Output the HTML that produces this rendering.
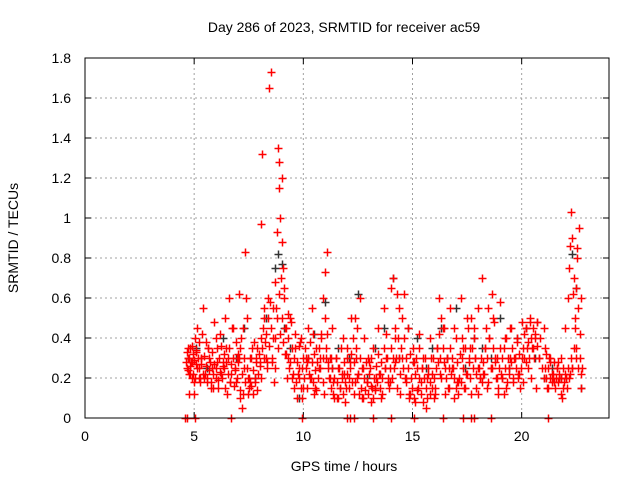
<!DOCTYPE html>
<html><head><meta charset="utf-8"><style>
body{margin:0;background:#fff}
svg{display:block;font-family:"Liberation Sans",sans-serif}
</style></head><body>
<svg id="chart" width="640" height="480" viewBox="0 0 640 480">
<text x="344" y="32" font-size="14" text-anchor="middle" fill="#000">Day 286 of 2023, SRMTID for receiver ac59</text>
<text x="344" y="471" font-size="14" text-anchor="middle">GPS time / hours</text>
<text transform="translate(18,238) rotate(-90)" font-size="14" text-anchor="middle">SRMTID / TECUs</text>
<g id="grid"></g>
<g id="ticks"></g>
<g id="black"></g>
<g id="red"></g>
<rect x="85" y="58" width="524" height="360" fill="none" stroke="#000" stroke-width="1"/>
</svg>
<script>
const xTicks=[0,5,10,15,20];
const yTicks=[0,0.2,0.4,0.6,0.8,1,1.2,1.4,1.6,1.8];
const yTickLabels=["0","0.2","0.4","0.6","0.8","1","1.2","1.4","1.6","1.8"];
const redHours=[4.65,4.7,4.75,4.8,4.85,4.9,4.95,5.0,5.05,5.1,5.15,5.2,5.3,5.4,5.5,5.55,5.6,5.7,5.8,5.9,6.0,6.05,6.1,6.2,6.3,6.4,6.5,6.55,6.6,6.7,6.8,6.9,7.0,7.05,7.1,7.15,7.2,7.3,7.35,7.4,7.5,7.6,7.7,7.8,7.9,8.0,8.05,8.1,8.15,8.2,8.3,8.4,8.45,8.5,8.6,8.7,8.75,8.8,8.85,8.9,8.9,8.95,9.0,9.0,9.05,9.1,9.2,9.3,9.4,9.5,9.6,9.7,9.8,9.9,10.0,10.1,10.2,10.3,10.4,10.5,10.6,10.7,10.8,10.9,11.0,11.05,11.1,11.2,11.3,11.4,11.5,11.6,11.7,11.8,11.9,12.0,12.1,12.2,12.3,12.4,12.5,12.6,12.7,12.8,12.9,13.0,13.1,13.2,13.3,13.4,13.5,13.6,13.7,13.8,13.9,14.0,14.1,14.15,14.2,14.3,14.4,14.5,14.6,14.7,14.8,14.9,15.0,15.1,15.2,15.3,15.4,15.5,15.6,15.7,15.8,15.9,16.0,16.1,16.2,16.3,16.4,16.5,16.6,16.7,16.8,16.9,17.0,17.1,17.2,17.3,17.4,17.5,17.6,17.7,17.8,17.9,18.0,18.1,18.2,18.3,18.4,18.5,18.6,18.7,18.8,18.9,19.0,19.1,19.2,19.3,19.4,19.5,19.6,19.7,19.8,19.9,20.0,20.1,20.2,20.3,20.4,20.5,20.6,20.7,20.8,21.0,21.1,21.2,21.3,21.4,21.5,21.6,21.7,21.8,21.9,22.0,22.1,22.15,22.2,22.25,22.3,22.35,22.4,22.45,22.5,22.55,22.6,22.65,22.7,22.75,4.7,4.8,4.9,5.0,5.1,5.2,5.3,5.45,5.65,5.85,6.05,6.25,6.45,6.65,6.85,7.05,7.25,7.45,7.65,7.85,8.05,8.25,8.55,8.65,9.15,9.35,9.55,9.75,9.95,10.15,10.35,10.55,10.75,10.95,11.15,11.35,11.55,11.75,11.95,12.15,12.35,12.55,12.75,12.95,13.15,13.35,13.55,13.75,13.95,14.25,14.45,14.65,14.85,15.05,15.25,15.45,15.65,15.85,16.05,16.25,16.45,16.65,16.85,17.05,17.25,17.45,17.65,17.85,18.05,18.25,18.45,18.65,18.85,19.05,19.25,19.45,19.65,19.85,20.05,20.25,20.45,20.65,21.05,21.25,21.45,21.65,21.85,22.05,22.3,22.5,22.7,4.75,5.25,5.75,6.35,6.95,7.55,8.35,9.25,9.85,10.45,11.25,11.85,12.45,13.05,13.65,14.35,14.95,15.55,16.15,16.75,17.35,17.95,18.55,19.15,19.75,20.35,20.75,21.35,21.95,22.6];
const redValues=[0.25,0.3,0.22,0.35,0.28,0.2,0.32,0.12,0.4,0.27,0.45,0.2,0.3,0.55,0.22,0.38,0.18,0.3,0.25,0.48,0.2,0.35,0.15,0.42,0.28,0.5,0.12,0.3,0.6,0.22,0.45,0.18,0.32,0.62,0.1,0.4,0.05,0.25,0.83,0.5,0.15,0.3,0.12,0.2,0.35,0.28,0.97,1.32,0.45,0.55,0.3,0.6,1.65,1.73,0.4,0.25,0.55,0.93,1.35,1.15,1.28,1.0,1.2,0.88,0.75,0.6,0.45,0.3,0.5,0.2,0.35,0.1,0.25,0.4,0.15,0.3,0.45,0.2,0.55,0.12,0.35,0.25,0.42,0.18,0.73,0.3,0.83,0.2,0.45,0.1,0.3,0.25,0.15,0.4,0.08,0.35,0.2,0.5,0.12,0.3,0.22,0.6,0.1,0.4,0.18,0.28,0.08,0.35,0.15,0.45,0.22,0.12,0.55,0.3,0.18,0.65,0.7,0.25,0.4,0.15,0.55,0.3,0.62,0.2,0.45,0.12,0.35,0.08,0.25,0.42,0.18,0.3,0.05,0.22,0.4,0.15,0.1,0.35,0.6,0.2,0.45,0.12,0.3,0.55,0.25,0.1,0.4,0.18,0.6,0.35,0.15,0.5,0.28,0.12,0.45,0.22,0.55,0.2,0.7,0.35,0.15,0.4,0.25,0.5,0.3,0.12,0.58,0.2,0.35,0.15,0.25,0.45,0.18,0.3,0.4,0.22,0.48,0.3,0.45,0.25,0.5,0.35,0.4,0.48,0.3,0.2,0.32,0.15,0.28,0.22,0.18,0.25,0.2,0.3,0.15,0.45,0.6,0.75,0.86,1.03,0.9,0.62,0.7,0.45,0.35,0.8,0.25,0.3,0.15,0.25,0.35,0.22,0.28,0.18,0.33,0.25,0.3,0.2,0.35,0.15,0.28,0.22,0.35,0.18,0.25,0.3,0.12,0.2,0.35,0.3,0.2,0.38,0.28,0.18,0.32,0.25,0.15,0.22,0.1,0.28,0.2,0.15,0.3,0.12,0.25,0.18,0.1,0.22,0.15,0.28,0.18,0.12,0.25,0.3,0.15,0.2,0.1,0.25,0.18,0.3,0.12,0.2,0.1,0.28,0.15,0.25,0.2,0.3,0.12,0.22,0.28,0.15,0.25,0.18,0.3,0.22,0.35,0.3,0.25,0.22,0.18,0.25,0.2,0.22,0.4,0.3,0.3,0.22,0.18,0.35,0.2,0.15,0.25,0.3,0.2,0.28,0.1,0.2,0.25,0.3,0.22,0.12,0.2,0.15,0.25,0.3,0.18,0.25,0.2,0.38,0.42,0.3,0.22,0.2,0.25];
const redHours2=[4.62,4.68,4.72,4.78,4.83,4.88,4.93,4.97,5.02,5.07,5.12,5.17,5.22,5.27,5.33,5.37,5.42,5.47,5.52,5.58,5.63,5.68,5.73,5.78,5.83,5.88,5.93,5.98,6.02,6.08,6.12,6.17,6.22,6.28,6.33,6.38,6.42,6.48,6.53,6.58,6.63,6.68,6.72,6.78,6.83,6.88,6.92,6.98,7.02,7.08,7.12,7.18,7.22,7.28,7.32,7.38,7.42,7.48,7.52,7.58,7.62,7.68,7.72,7.78,7.82,7.88,7.92,7.98,8.02,8.08,8.12,8.18,8.22,8.28,8.32,8.38,8.42,8.48,8.52,8.58,8.62,8.68,8.72,8.78,8.82,8.88,8.92,8.98,9.02,9.08,9.12,9.18,9.22,9.28,9.32,9.38,9.42,9.48,9.52,9.58,9.62,9.68,9.72,9.78,9.82,9.88,9.92,9.98,10.02,10.08,10.12,10.18,10.22,10.28,10.32,10.38,10.42,10.48,10.52,10.58,10.62,10.68,10.72,10.78,10.82,10.88,10.92,10.98,11.02,11.08,11.12,11.18,11.22,11.28,11.32,11.38,11.42,11.48,11.52,11.58,11.62,11.68,11.72,11.78,11.82,11.88,11.92,11.98,12.02,12.08,12.12,12.18,12.22,12.28,12.32,12.38,12.42,12.48,12.52,12.58,12.62,12.68,12.72,12.78,12.82,12.88,12.92,12.98,13.02,13.08,13.12,13.18,13.22,13.28,13.32,13.38,13.42,13.48,13.52,13.58,13.62,13.68,13.72,13.78,13.82,13.88,13.92,13.98,14.02,14.08,14.12,14.18,14.22,14.28,14.32,14.38,14.42,14.48,14.52,14.58,14.62,14.68,14.72,14.78,14.82,14.88,14.92,14.98,15.02,15.08,15.12,15.18,15.22,15.28,15.32,15.38,15.42,15.48,15.52,15.58,15.62,15.68,15.72,15.78,15.82,15.88,15.92,15.98,16.02,16.08,16.12,16.18,16.22,16.28,16.32,16.38,16.42,16.48,16.52,16.58,16.62,16.68,16.72,16.78,16.82,16.88,16.92,16.98,17.02,17.08,17.12,17.18,17.22,17.28,17.32,17.38,17.42,17.48,17.52,17.58,17.62,17.68,17.72,17.78,17.82,17.88,17.92,17.98,18.02,18.08,18.12,18.18,18.22,18.28,18.32,18.38,18.42,18.48,18.52,18.58,18.62,18.68,18.72,18.78,18.82,18.88,18.92,18.98,19.02,19.08,19.12,19.18,19.22,19.28,19.32,19.38,19.42,19.48,19.52,19.58,19.62,19.68,19.72,19.78,19.82,19.88,19.92,19.98,20.02,20.08,20.12,20.18,20.22,20.28,20.32,20.38,20.42,20.48,20.52,20.58,20.62,20.68,20.72,20.78,20.82,20.95,21.02,21.08,21.12,21.18,21.22,21.28,21.32,21.38,21.42,21.48,21.52,21.58,21.62,21.68,21.72,21.78,21.82,21.88,21.92,21.98,22.02,22.08,22.12,22.18,22.22,22.28,22.32,22.38,22.42,22.48,22.52,22.58,22.62,22.68,22.72];
const redValues2=[0.28,0.33,0.24,0.3,0.26,0.36,0.22,0.29,0.2,0.34,0.25,0.3,0.38,0.18,0.27,0.42,0.22,0.31,0.26,0.2,0.35,0.24,0.28,0.18,0.33,0.22,0.27,0.4,0.25,0.19,0.3,0.23,0.36,0.2,0.26,0.32,0.15,0.28,0.22,0.35,0.18,0.27,0.45,0.3,0.16,0.24,0.38,0.2,0.28,0.14,0.35,0.22,0.45,0.3,0.18,0.6,0.25,0.12,0.2,0.3,0.16,0.24,0.38,0.18,0.28,0.14,0.22,0.32,0.26,0.4,0.35,0.5,0.3,0.42,0.28,0.5,0.36,0.58,0.45,0.3,0.55,0.4,0.68,0.5,0.35,0.62,0.42,0.7,0.5,0.38,0.65,0.45,0.32,0.52,0.4,0.28,0.48,0.35,0.22,0.3,0.42,0.18,0.28,0.2,0.36,0.15,0.25,0.3,0.2,0.35,0.25,0.15,0.3,0.22,0.38,0.28,0.18,0.32,0.24,0.14,0.28,0.2,0.35,0.25,0.4,0.3,0.6,0.5,0.35,0.42,0.28,0.2,0.3,0.15,0.25,0.12,0.2,0.3,0.18,0.1,0.25,0.15,0.35,0.2,0.12,0.28,0.18,0.3,0.22,0.15,0.25,0.32,0.18,0.4,0.28,0.5,0.35,0.45,0.22,0.3,0.15,0.25,0.1,0.2,0.14,0.28,0.18,0.12,0.22,0.3,0.16,0.1,0.2,0.14,0.26,0.18,0.32,0.22,0.15,0.28,0.2,0.35,0.25,0.42,0.3,0.2,0.15,0.25,0.35,0.2,0.3,0.45,0.28,0.62,0.4,0.3,0.22,0.35,0.5,0.25,0.4,0.3,0.18,0.25,0.12,0.32,0.2,0.15,0.28,0.1,0.22,0.3,0.14,0.35,0.2,0.12,0.25,0.08,0.2,0.3,0.15,0.1,0.25,0.18,0.12,0.22,0.3,0.2,0.15,0.25,0.35,0.28,0.42,0.3,0.5,0.35,0.45,0.25,0.2,0.3,0.15,0.25,0.35,0.22,0.3,0.45,0.2,0.15,0.28,0.12,0.2,0.32,0.18,0.4,0.25,0.15,0.35,0.22,0.45,0.3,0.2,0.5,0.35,0.25,0.4,0.3,0.15,0.25,0.12,0.2,0.3,0.18,0.28,0.22,0.35,0.45,0.3,0.55,0.4,0.25,0.62,0.35,0.48,0.28,0.2,0.3,0.15,0.25,0.35,0.2,0.3,0.12,0.25,0.4,0.18,0.3,0.22,0.45,0.28,0.35,0.2,0.3,0.25,0.38,0.2,0.32,0.15,0.25,0.3,0.35,0.42,0.28,0.45,0.38,0.3,0.48,0.4,0.35,0.45,0.3,0.42,0.36,0.48,0.3,0.4,0.25,0.45,0.35,0.2,0.15,0.25,0.2,0.3,0.18,0.22,0.28,0.15,0.2,0.25,0.18,0.22,0.12,0.2,0.25,0.18,0.22,0.2,0.15,0.25,0.2,0.22,0.3,0.25,0.35,0.5,0.65,0.85,0.55,0.95,0.42,0.6,0.3,0.38,0.28,0.32,0.2,0.25];
const zeroHours=[4.6,4.65,5.05,6.7,9.95,12.0,12.15,12.3,13.2,14.0,15.05,16.4,17.3,17.7,17.8,18.6,21.2];
const blackHours=[4.7,5.1,5.6,6.3,6.9,7.3,7.8,8.3,8.7,8.85,9.0,9.1,9.4,9.8,10.2,10.5,11.0,11.3,11.6,12.1,12.5,12.9,13.3,13.7,14.1,14.4,14.8,15.2,15.6,15.9,16.3,16.6,17.0,17.4,17.8,18.2,18.6,19.0,19.4,19.8,20.2,20.6,21.0,21.4,21.8,22.3,22.5,22.7];
const blackValues=[0.3,0.35,0.25,0.4,0.3,0.45,0.2,0.5,0.75,0.82,0.77,0.45,0.35,0.1,0.3,0.42,0.58,0.25,0.35,0.3,0.62,0.2,0.35,0.45,0.7,0.3,0.45,0.4,0.25,0.35,0.45,0.3,0.55,0.25,0.4,0.35,0.3,0.5,0.25,0.4,0.45,0.3,0.2,0.25,0.2,0.82,0.65,0.15];
const X0=85,X1=609,Y0=418,Y1=58;
function sx(h){return X0+(h/24)*(X1-X0);}
function sy(v){return Y0-(v/1.8)*(Y0-Y1);}
const NS="http://www.w3.org/2000/svg";
const grid=document.getElementById('grid'),ticks=document.getElementById('ticks');
function mk(tag,attrs,parent){const e=document.createElementNS(NS,tag);for(const k in attrs)e.setAttribute(k,attrs[k]);parent.appendChild(e);return e;}
xTicks.forEach(t=>{const x=sx(t);
 if(t>0){const g=mk('line',{x1:x,x2:x,y1:Y1,y2:Y0,stroke:'#a0a0a0','stroke-dasharray':'2,3'},grid);
 
 }
 mk('line',{x1:x,x2:x,y1:Y0,y2:Y0-6,stroke:'#000'},ticks);
 mk('line',{x1:x,x2:x,y1:Y1,y2:Y1+6,stroke:'#000'},ticks);
 const l=mk('text',{x:x,y:Y0+23,'font-size':14,'text-anchor':'middle'},ticks);l.textContent=t;
 
 });
yTicks.forEach((t,i)=>{const y=sy(t);
 if(t>0&&t<1.8){const g=mk('line',{x1:X0,x2:X1,y1:y,y2:y,stroke:'#a0a0a0','stroke-dasharray':'2,3'},grid);
 
 }
 mk('line',{x1:X0,x2:X0+6,y1:y,y2:y,stroke:'#000'},ticks);
 mk('line',{x1:X1,x2:X1-6,y1:y,y2:y,stroke:'#000'},ticks);
 const l=mk('text',{x:X0-14,y:y+5,'font-size':14,'text-anchor':'end'},ticks);l.textContent=yTickLabels[i];
 
 });
function plus(parent,h,v,col){const x=Math.round(sx(h))+0.5,y=Math.round(sy(v))+0.5;
 const p=mk('path',{d:`M${x-4} ${y}h8M${x} ${y-4}v8`,stroke:col,'stroke-width':1.5,fill:'none'},parent);
 
 }
const bg=document.getElementById('black'),rg=document.getElementById('red');
blackHours.forEach((h,i)=>plus(bg,h,blackValues[i],'#333'));
redHours.forEach((h,i)=>plus(rg,h,redValues[i],'#ff0000'));
redHours2.forEach((h,i)=>plus(rg,h,redValues2[i],'#ff0000'));
zeroHours.forEach(h=>plus(rg,h,0,'#ff0000'));
</script>
</body></html>
